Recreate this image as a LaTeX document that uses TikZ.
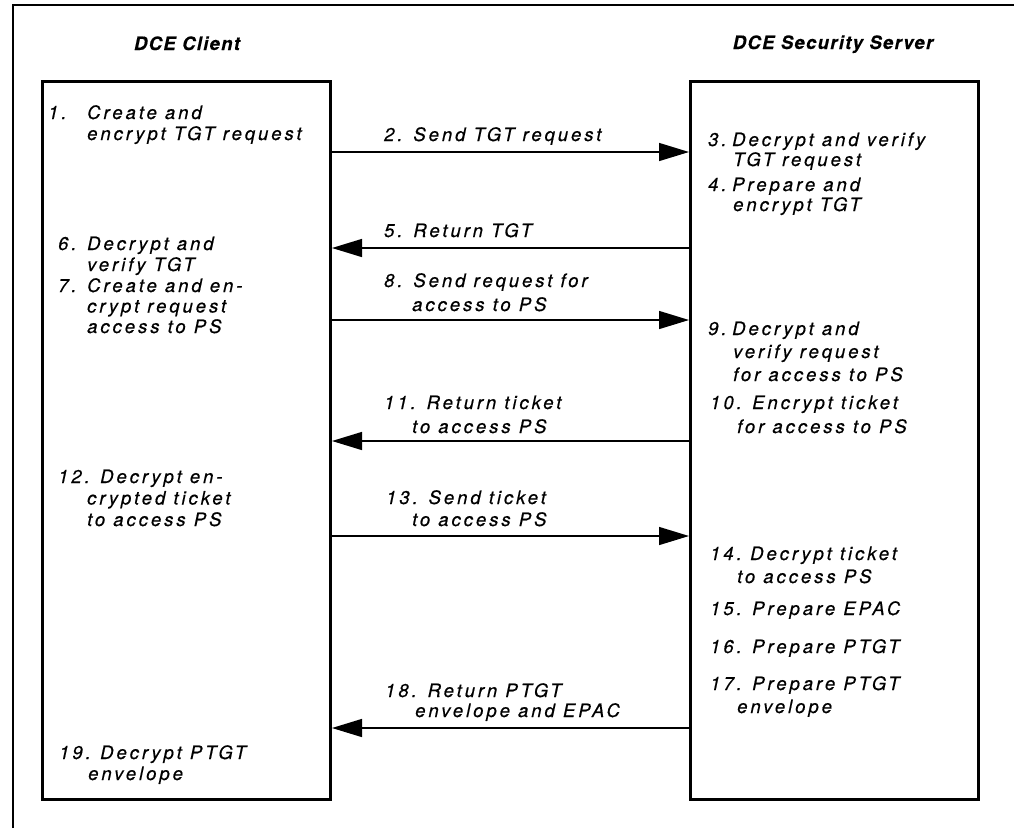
\documentclass[tikz,border=0pt]{standalone}
\usepackage{fontspec}
\setmainfont{TeX Gyre Heros}
\newfontfamily\itemfont{TeX Gyre Heros}[LetterSpace=16,FakeBold=0.5]
\newfontfamily\headfont{TeX Gyre Heros}[LetterSpace=7,FakeBold=0.3]
\usetikzlibrary{arrows.meta}
\newcommand\numbox[2]{\makebox[#1][l]{#2}}

% multi-line texts are placed by the baseline of their last line
\tikzset{
  frame/.style={line width=1.5pt},
  party/.style={draw, line width=3pt, minimum width=288pt, minimum height=717.5pt, inner sep=0pt},
  msg/.style={line width=1.4pt, -{Triangle[length=30pt,width=18pt]}},
  txt/.style={anchor=base west, inner sep=0pt, align=left,
    font=\itemfont\itshape\fontsize{18.5}{#1}\selectfont},
  txt/.default=21,
  head/.style={anchor=base, inner sep=0pt,
    font=\headfont\bfseries\itshape\fontsize{18.5}{22}\selectfont},
}

\begin{document}
\begin{tikzpicture}[x=1pt, y=-1pt]
  \useasboundingbox (0,0) rectangle (1014,828);

  % open frame: top and left rules
  \draw[frame] (13,828) -- (13,5) -- (1014,5);

  % the two parties
  \node[head] (tclient) at (187,50) {DCE Client};
  \node[head] (tserver) at (833,49) {DCE Security Server};
  \node[party] (client) at (186.5,440.25) {};
  \node[party] (server) at (834.5,440.25) {};

  % client steps
  \node[txt=21] (s1) at (48,140) {\numbox{39pt}{1.}Create and\\\hspace*{39pt}encrypt TGT request};
  \node[txt=21] (s6) at (58,271) {\numbox{29pt}{6.}Decrypt and\\\hspace*{29pt}verify TGT};
  \node[txt=20.5] (s7) at (58,333) {\numbox{29pt}{7.}Create and en-\\\hspace*{29pt}crypt request\\\hspace*{29pt}access to PS};
  \node[txt=21.5] (s12) at (58,526) {\numbox{42pt}{12.}Decrypt en-\\\hspace*{29pt}crypted ticket\\\hspace*{29pt}to access PS};
  \node[txt=21] (s19) at (59,780) {\numbox{41pt}{19.}Decrypt PTGT\\\hspace*{29pt}envelope};

  % server steps
  \node[txt=20] (s3) at (708,166) {\numbox{24pt}{3.}Decrypt and verify\\\hspace*{25pt}TGT request};
  \node[txt=20] (s4) at (708,211) {\numbox{24pt}{4.}Prepare and\\\hspace*{25pt}encrypt TGT};
  \node[txt=23] (s9) at (708,381) {\numbox{24pt}{9.}Decrypt and\\\hspace*{25pt}verify request\\\hspace*{25pt}for access to PS};
  \node[txt=24] (s10) at (710,433) {\numbox{42pt}{10.}Encrypt ticket\\\hspace*{27pt}for access to PS};
  \node[txt=23] (s14) at (710,583) {\numbox{40pt}{14.}Decrypt ticket\\\hspace*{27pt}to access PS};
  \node[txt] (s15) at (710,615) {\numbox{42pt}{15.}Prepare EPAC};
  \node[txt] (s16) at (710,653) {\numbox{42pt}{16.}Prepare PTGT};
  \node[txt=23] (s17) at (710,713) {\numbox{42pt}{17.}Prepare PTGT\\\hspace*{27pt}envelope};

  % message rows
  \coordinate (m2) at (0,152);
  \coordinate (m5) at (0,248);
  \coordinate (m8) at (0,320);
  \coordinate (m11) at (0,441);
  \coordinate (m13) at (0,536);
  \coordinate (m18) at (0,728);

  \draw[msg] (client.east |- m2) -- (server.west |- m2);
  \draw[msg] (server.west |- m5) -- (client.east |- m5);
  \draw[msg] (client.east |- m8) -- (server.west |- m8);
  \draw[msg] (server.west |- m11) -- (client.east |- m11);
  \draw[msg] (client.east |- m13) -- (server.west |- m13);
  \draw[msg] (server.west |- m18) -- (client.east |- m18);

  % message labels
  \node[txt] (l2) at (384,141) {2. Send TGT request};
  \node[txt] (l5) at (384,237) {5. Return TGT};
  \node[txt=24] (l8) at (384,311) {8. Send request for\\\hspace*{28pt}access to PS};
  \node[txt=24] (l11) at (384,433) {11. Return ticket\\\hspace*{28pt}to access PS};
  \node[txt=22] (l13) at (386,526) {13. Send ticket\\\hspace*{26pt}to access PS};
  \node[txt=20] (l18) at (385,717) {18. Return PTGT\\\hspace*{30pt}envelope and EPAC};
\end{tikzpicture}
\end{document}
